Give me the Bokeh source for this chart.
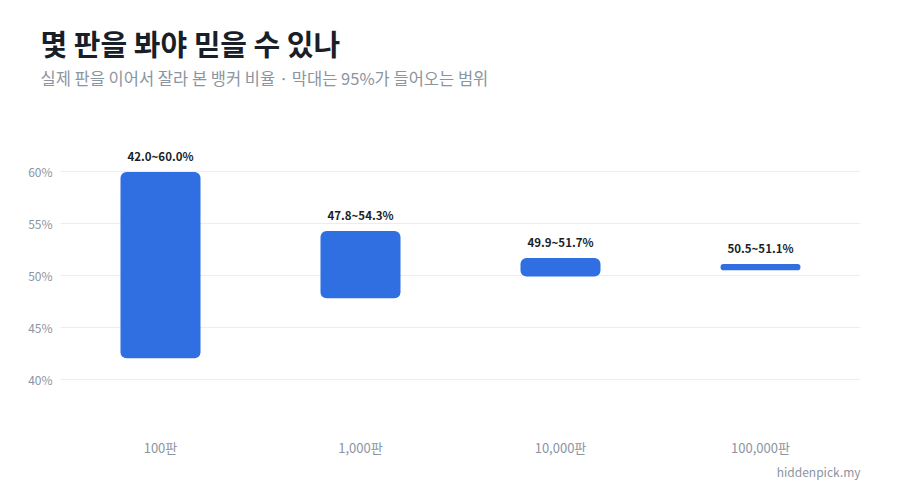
from bokeh.plotting import figure
from bokeh.models import ColumnDataSource, FixedTicker, PrintfTickFormatter, Title
from bokeh.core.properties import value
from bokeh.embed import file_html
from bokeh.resources import INLINE

categories = ["100판", "1,000판", "10,000판", "100,000판"]
lower = [42.0, 47.8, 49.9, 50.5]
upper = [60.0, 54.3, 51.7, 51.1]
labels = ["42.0~60.0%", "47.8~54.3%", "49.9~51.7%", "50.5~51.1%"]
y_ticks = [40, 45, 50, 55, 60]

title_text = "몇 판을 봐야 믿을 수 있나"
subtitle_text = "실제 판을 이어서 잘라 본 뱅커 비율 · 막대는 95%가 들어오는 범위"
source_text = "hiddenpick.my"

FONT = "Noto Sans CJK KR"
GRAY = "#8b95a1"
BLUE = "#2f6fe2"

src = ColumnDataSource(dict(cat=categories, lo=lower, hi=upper, lab=labels))

p = figure(
    width=884, height=481, x_range=categories, y_range=(36, 64),
    output_backend="svg", toolbar_location=None,
    min_border_left=60, min_border_right=24, min_border_top=0, min_border_bottom=0,
)
p.outline_line_color = None
p.background_fill_color = "white"
p.border_fill_color = "white"

p.vbar(x="cat", bottom="lo", top="hi", width=0.4, source=src,
       fill_color=BLUE, line_color=None, border_radius=6)
p.text(x="cat", y="hi", text="lab", source=src, y_offset=-8,
       text_align="center", text_baseline="bottom",
       text_font=value(FONT), text_font_size="11.5px", text_font_style="bold",
       text_color="#191f28")

p.xgrid.grid_line_color = None
p.ygrid.grid_line_color = "#eaecef"
p.ygrid.grid_line_width = 1

p.yaxis.ticker = FixedTicker(ticks=y_ticks)
p.yaxis.formatter = PrintfTickFormatter(format="%d%%")
for ax in (p.xaxis[0], p.yaxis[0]):
    ax.axis_line_color = None
    ax.major_tick_line_color = None
    ax.minor_tick_line_color = None
    ax.major_tick_out = 0
    ax.major_tick_in = 0
    ax.major_label_text_color = GRAY
    ax.major_label_text_font = FONT
p.yaxis.major_label_standoff = 8
p.yaxis.major_label_text_font_size = "12px"
p.xaxis.major_label_standoff = 17
p.xaxis.major_label_text_font_size = "13px"


def spacer(gap):
    return Title(text=" ", text_font=FONT, text_font_size="1px", standoff=gap)


# titles stacked above the frame: the one added first sits nearest to the frame
p.add_layout(spacer(38), "above")
p.add_layout(Title(text=subtitle_text, text_font=FONT, text_font_size="16.5px",
                   text_font_style="normal", text_color=GRAY, align="left",
                   offset=-20, standoff=0), "above")
p.add_layout(Title(text=title_text, text_font=FONT, text_font_size="29px",
                   text_font_style="bold", text_color="#191f28", align="left",
                   offset=-20, standoff=0), "above")
p.add_layout(spacer(16), "above")
p.add_layout(Title(text=source_text, text_font=FONT, text_font_size="12px",
                   text_font_style="normal", text_color=GRAY, align="right",
                   offset=0, standoff=3), "below")

open("out.html", "w").write(file_html(p, INLINE))
